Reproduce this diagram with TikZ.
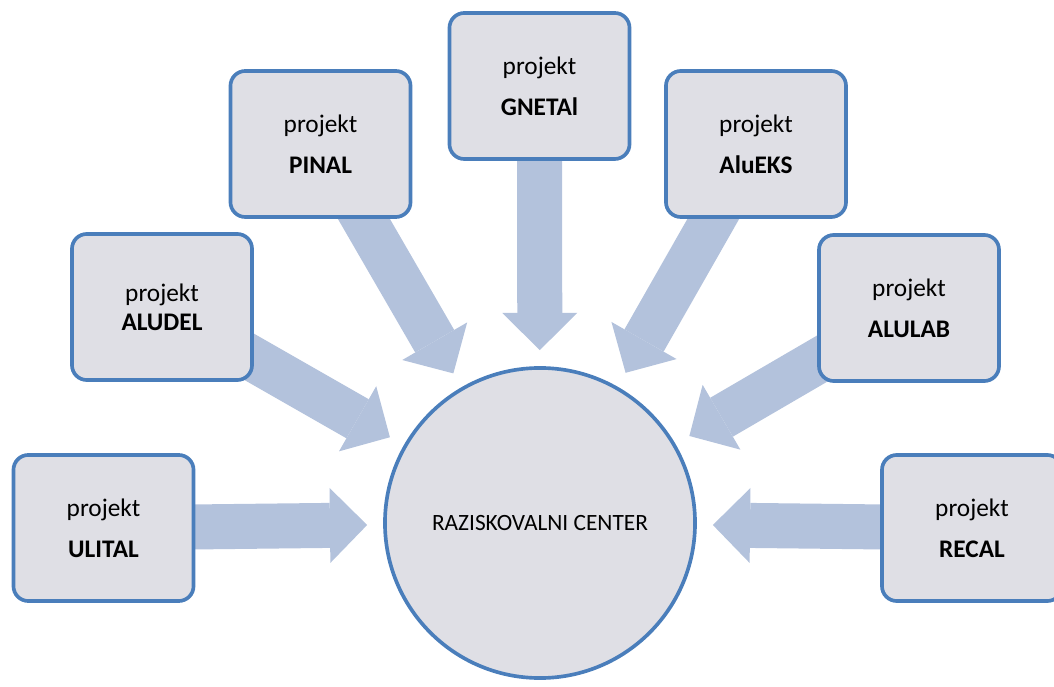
\documentclass[tikz,border=0pt]{standalone}
\usepackage{fontspec}
\setmainfont{Carlito}
\usetikzlibrary{arrows.meta, backgrounds}

\definecolor{boxfill}{RGB}{223,223,229}
\definecolor{boxline}{RGB}{74,126,187}
\definecolor{arrowblue}{RGB}{179,194,220}

\tikzset{
  projbox/.style={draw=boxline, line width=2.6pt, fill=boxfill, rounded corners=0.37cm,
    minimum width=4.5cm, minimum height=3.65cm, align=center, inner sep=0pt,
    font=\fontsize{18}{29}\selectfont},
  centrecircle/.style={draw=boxline, line width=2.6pt, fill=boxfill, circle,
    minimum size=7.75cm, inner sep=0pt, font=\fontsize{16.6}{20}\selectfont},
  bigarrow/.style={arrowblue, line width=1.125cm,
    -{Triangle[length=0.93cm, width=1.875cm, line width=0pt]}, shorten >=0.4cm}
}

\begin{document}
\begin{tikzpicture}[x=0.025cm, y=0.025cm]
\useasboundingbox (0,0) rectangle (1054,686);

% Research centre
\node[centrecircle] (centre) at (540, 163) {RAZISKOVALNI CENTER};

% Projects
\node[projbox] (ULITAL) at (103.5, 158) {projekt\\\textbf{ULITAL}};
\node[projbox] (ALUDEL) at (162, 379) {projekt\\[-8.5pt]\textbf{ALUDEL}};
\node[projbox] (PINAL) at (320.5, 542) {projekt\\\textbf{PINAL}};
\node[projbox] (GNETAl) at (539.5, 600) {projekt\\\textbf{GNETAl}};
\node[projbox] (AluEKS) at (756, 542) {projekt\\\textbf{AluEKS}};
\node[projbox] (ALULAB) at (909, 378) {projekt\\\textbf{ALULAB}};
\node[projbox] (RECAL) at (972, 158) {projekt\\\textbf{RECAL}};

% Arrows into the centre
\begin{pgfonlayer}{background}
\foreach \p in {ULITAL, ALUDEL, PINAL, GNETAl, AluEKS, ALULAB, RECAL}
  \draw[bigarrow] (\p.center) -- (centre);
\end{pgfonlayer}
\end{tikzpicture}
\end{document}
